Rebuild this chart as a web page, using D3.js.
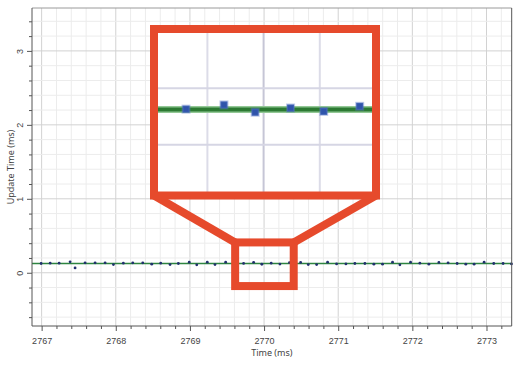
<!DOCTYPE html>
<html>
<head>
<meta charset="utf-8">
<script src="https://cdn.jsdelivr.net/npm/d3@7"></script>
<style>
  body { margin: 0; background: #fff; }
  svg { display: block; font-family: "Noto Sans", sans-serif; }
  .tick-label { font-size: 9px; fill: #444; }
  .axis-title { font-size: 9px; fill: #444; }
</style>
</head>
<body>
<svg id="chart"></svg>
<script>
// sample times (ms) and update times (ms)
var sampleTimes = [
  2766.993, 2767.115, 2767.236, 2767.384, 2767.451, 2767.586, 2767.721, 2767.856,
  2767.968, 2768.102, 2768.229, 2768.364, 2768.485, 2768.606, 2768.732, 2768.844,
  2768.991, 2769.092, 2769.234, 2769.338, 2769.482, 2769.600, 2769.724, 2769.859,
  2769.970, 2770.096, 2770.214, 2770.342, 2770.493, 2770.596, 2770.709, 2770.857,
  2770.978, 2771.104, 2771.225, 2771.360, 2771.481, 2771.598, 2771.733, 2771.832,
  2771.976, 2772.101, 2772.223, 2772.358, 2772.482, 2772.604, 2772.721, 2772.833,
  2772.968, 2773.098, 2773.224, 2773.337
];
var updateTimes = [
  0.125, 0.130, 0.130, 0.148, 0.065, 0.134, 0.134, 0.134,
  0.111, 0.130, 0.134, 0.134, 0.116, 0.130, 0.111, 0.125,
  0.143, 0.107, 0.143, 0.111, 0.143, 0.128, 0.126, 0.141,
  0.115, 0.130, 0.118, 0.136, 0.139, 0.111, 0.111, 0.143,
  0.120, 0.120, 0.125, 0.125, 0.116, 0.116, 0.143, 0.107,
  0.143, 0.130, 0.116, 0.139, 0.134, 0.125, 0.116, 0.116,
  0.143, 0.125, 0.125, 0.120
];
var meanUpdate = 0.125;   // the green level line

var xTicks = [2767, 2768, 2769, 2770, 2771, 2772, 2773];
var yTicks = [0, 1, 2, 3];

// region that the magnifier shows
var zoomTimes = [2769.61, 2770.40];
var zoomValues = [-0.18, 0.41];

var width = 520, height = 365;
var margin = {top: 8, right: 8.3, bottom: 39, left: 32};
var red = "#e64a2c";

var data = sampleTimes.map(function(t, i){ return {t: t, v: updateTimes[i]}; });

var svg = d3.select("#chart")
            .attr("width", width)
            .attr("height", height);

var xScale = d3.scaleLinear()
               .domain([2766.87, 2773.34])
               .range([margin.left, width - margin.right]);
var yScale = d3.scaleLinear()
               .domain([-0.72, 3.58])
               .range([height - margin.bottom, margin.top]);

var range02 = function(lo, hi){
  // every 0.2 step inside [lo, hi]
  var out = [];
  for (var k = Math.ceil(lo / 0.2 - 1e-6); k * 0.2 <= hi + 1e-6; k++) out.push(+(k * 0.2).toFixed(4));
  return out;
};
var xMinor = range02(xScale.domain()[0], xScale.domain()[1]);
var yMinor = range02(yScale.domain()[0], yScale.domain()[1]);
var isMajor = function(d){ return Math.abs(d - Math.round(d)) < 1e-6; };

//Grid
var grid = svg.append("g");
grid.selectAll(".vgrid")
    .data(xMinor)
    .enter()
    .append("line")
    .attr("x1", function(d){return xScale(d)})
    .attr("x2", function(d){return xScale(d)})
    .attr("y1", margin.top)
    .attr("y2", height - margin.bottom)
    .attr("stroke", function(d){return isMajor(d) ? "#d2d2d2" : "#ececec"})
    .attr("stroke-width", 1);
grid.selectAll(".hgrid")
    .data(yMinor)
    .enter()
    .append("line")
    .attr("x1", margin.left)
    .attr("x2", width - margin.right)
    .attr("y1", function(d){return yScale(d)})
    .attr("y2", function(d){return yScale(d)})
    .attr("stroke", function(d){return isMajor(d) ? "#d2d2d2" : "#ececec"})
    .attr("stroke-width", 1);

//Data
var levelLine = d3.line()
                  .x(function(d){return xScale(d)})
                  .y(function(){return yScale(meanUpdate)});
svg.append("path")
   .attr("d", levelLine(xScale.domain()))
   .attr("stroke", "#2e8540")
   .attr("stroke-width", 1.5)
   .attr("fill", "none");

svg.append("g")
   .selectAll("circle")
   .data(data)
   .enter()
   .append("circle")
   .attr("cx", function(d){return xScale(d.t)})
   .attr("cy", function(d){return yScale(d.v)})
   .attr("r", 1.4)
   .attr("fill", "#22306e");

//Axes
var xAxis = d3.axisBottom(xScale).tickValues(xTicks).tickSize(5).tickFormat(d3.format("d"));
var xAxisMinor = d3.axisBottom(xScale).tickValues(xMinor.filter(function(d){return !isMajor(d)})).tickSize(3).tickFormat("");
var yAxis = d3.axisLeft(yScale).tickValues(yTicks).tickSize(5).tickFormat(d3.format("d"));
var yAxisMinor = d3.axisLeft(yScale).tickValues(yMinor.filter(function(d){return !isMajor(d)})).tickSize(3).tickFormat("");

var gx = svg.append("g")
            .attr("transform", "translate(0," + (height - margin.bottom) + ")")
            .call(xAxis);
svg.append("g")
   .attr("transform", "translate(0," + (height - margin.bottom) + ")")
   .call(xAxisMinor);
var gy = svg.append("g")
            .attr("transform", "translate(" + margin.left + ",0)")
            .call(yAxis);
svg.append("g")
   .attr("transform", "translate(" + margin.left + ",0)")
   .call(yAxisMinor);

svg.selectAll(".domain").remove();
svg.selectAll(".tick line").attr("stroke", "#555");
gx.selectAll(".tick text")
  .attr("class", "tick-label")
  .attr("y", 0)
  .attr("dy", 0)
  .attr("transform", "translate(0,17.5)")
  .attr("font-size", null).attr("font-family", null).attr("fill", null);
gy.selectAll(".tick text")
  .attr("class", "tick-label")
  .attr("x", 0)
  .attr("dy", 0)
  .attr("text-anchor", "middle")
  .attr("transform", "translate(-12.5,0) rotate(-90) translate(0,3)")
  .attr("font-size", null).attr("font-family", null).attr("fill", null);

// frame
svg.append("line").attr("x1", margin.left).attr("x2", width - margin.right)
   .attr("y1", margin.top).attr("y2", margin.top).attr("stroke", "#9a9a9a");
svg.append("line").attr("x1", margin.left).attr("x2", margin.left)
   .attr("y1", margin.top).attr("y2", height - margin.bottom).attr("stroke", "#555");
svg.append("line").attr("x1", width - margin.right).attr("x2", width - margin.right)
   .attr("y1", margin.top).attr("y2", height - margin.bottom).attr("stroke", "#555");
svg.append("line").attr("x1", margin.left).attr("x2", width - margin.right)
   .attr("y1", height - margin.bottom).attr("y2", height - margin.bottom).attr("stroke", "#555");

svg.append("text")
   .attr("class", "axis-title")
   .attr("x", (margin.left + width - margin.right) / 2)
   .attr("y", 356)
   .attr("text-anchor", "middle")
   .text("Time (ms)");
svg.append("text")
   .attr("class", "axis-title")
   .attr("transform", "translate(14," + ((margin.top + height - margin.bottom) / 2) + ") rotate(-90)")
   .attr("text-anchor", "middle")
   .text("Update Time (ms)");

//Magnifier
var box = {x0: xScale(zoomTimes[0]), x1: xScale(zoomTimes[1]), y0: yScale(zoomValues[1]), y1: yScale(zoomValues[0])};
var inset = {x0: 154, x1: 376, y0: 29, y1: 195.5};
var lens = svg.append("g");

lens.append("rect")
    .attr("x", box.x0).attr("y", box.y0)
    .attr("width", box.x1 - box.x0).attr("height", box.y1 - box.y0)
    .attr("fill", "none").attr("stroke", red).attr("stroke-width", 8);
lens.append("line")
    .attr("x1", inset.x0).attr("y1", inset.y1).attr("x2", box.x0).attr("y2", box.y0)
    .attr("stroke", red).attr("stroke-width", 8);
lens.append("line")
    .attr("x1", inset.x1).attr("y1", inset.y1).attr("x2", box.x1).attr("y2", box.y0)
    .attr("stroke", red).attr("stroke-width", 8);

var zx = d3.scaleLinear().domain(zoomTimes).range([inset.x0, inset.x1]);
var zy = d3.scaleLinear().domain(zoomValues).range([inset.y1, inset.y0]);

svg.append("clipPath").attr("id", "inset-clip")
   .append("rect")
   .attr("x", inset.x0).attr("y", inset.y0)
   .attr("width", inset.x1 - inset.x0).attr("height", inset.y1 - inset.y0);

lens.append("rect")
    .attr("x", inset.x0).attr("y", inset.y0)
    .attr("width", inset.x1 - inset.x0).attr("height", inset.y1 - inset.y0)
    .attr("fill", "#fff");

var insetG = lens.append("g").attr("clip-path", "url(#inset-clip)");
insetG.selectAll(".ivgrid")
      .data(range02(zoomTimes[0], zoomTimes[1]))
      .enter()
      .append("line")
      .attr("x1", function(d){return zx(d)}).attr("x2", function(d){return zx(d)})
      .attr("y1", inset.y0).attr("y2", inset.y1)
      .attr("stroke", function(d){return isMajor(d) ? "#c6c6d6" : "#dcdce8"})
      .attr("stroke-width", 2);
insetG.selectAll(".ihgrid")
      .data(range02(zoomValues[0], zoomValues[1]))
      .enter()
      .append("line")
      .attr("x1", inset.x0).attr("x2", inset.x1)
      .attr("y1", function(d){return zy(d)}).attr("y2", function(d){return zy(d)})
      .attr("stroke", "#d6d6e4")
      .attr("stroke-width", 2);

var insetLine = d3.line()
                  .x(function(d){return zx(d)})
                  .y(function(){return zy(meanUpdate)});
insetG.append("path").attr("d", insetLine(zoomTimes))
      .attr("stroke", "#93c996").attr("stroke-width", 7).attr("fill", "none");
insetG.append("path").attr("d", insetLine(zoomTimes))
      .attr("stroke", "#2c7a32").attr("stroke-width", 4).attr("fill", "none");

insetG.selectAll(".idot")
      .data(data)
      .enter()
      .append("rect")
      .attr("x", function(d){return zx(d.t) - 3.5})
      .attr("y", function(d){return zy(d.v) - 3.5})
      .attr("width", 7).attr("height", 7)
      .attr("fill", "#2f54aa")
      .attr("stroke", "rgba(90,120,200,0.4)")
      .attr("stroke-width", 2);

lens.append("rect")
    .attr("x", inset.x0).attr("y", inset.y0)
    .attr("width", inset.x1 - inset.x0).attr("height", inset.y1 - inset.y0)
    .attr("fill", "none").attr("stroke", red).attr("stroke-width", 8);
</script>
</body>
</html>
